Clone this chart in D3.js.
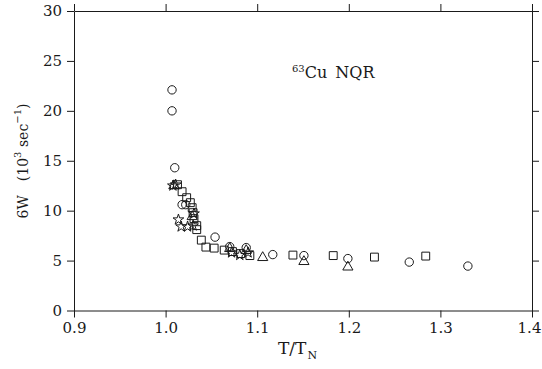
<!DOCTYPE html>
<html>
<head>
<meta charset="utf-8">
<script src="https://cdn.jsdelivr.net/npm/d3@7"></script>
<style>
  body { margin: 0; background: #fff; }
  svg { display: block; }
  text { font-family: "DejaVu Serif", "Liberation Serif", serif; fill: #1a1a1a; }
</style>
</head>
<body>
<svg id="chart" width="542" height="369"></svg>
<script>
// 63Cu NQR relaxation rate 6W versus reduced temperature T/TN
const xTicks = [0.9, 1.0, 1.1, 1.2, 1.3, 1.4];
const yTicks = [0, 5, 10, 15, 20, 25, 30];

const circles = [
  [1.007, 22.1], [1.007, 20.0], [1.010, 14.3], [1.018, 10.6], [1.022, 10.6],
  [1.054, 7.35], [1.070, 6.4], [1.088, 6.3], [1.117, 5.6], [1.151, 5.5],
  [1.199, 5.2], [1.266, 4.85], [1.330, 4.45]
];
const squares = [
  [1.013, 12.6], [1.018, 11.9], [1.023, 11.3], [1.027, 10.8], [1.029, 10.3],
  [1.030, 9.8], [1.031, 9.2], [1.034, 8.5], [1.034, 8.1], [1.039, 7.05],
  [1.044, 6.35], [1.053, 6.25], [1.064, 6.05], [1.073, 5.9], [1.082, 5.7],
  [1.092, 5.5], [1.139, 5.55], [1.183, 5.5], [1.228, 5.35], [1.284, 5.45]
];
const triangles = [
  [1.009, 12.5], [1.029, 9.4], [1.070, 6.2], [1.088, 6.0], [1.106, 5.3],
  [1.151, 4.9], [1.199, 4.35]
];
const stars = [
  [1.008, 12.5], [1.011, 12.6], [1.014, 9.1], [1.017, 8.4], [1.024, 8.4],
  [1.030, 8.5], [1.031, 9.7], [1.072, 5.8], [1.081, 5.55], [1.090, 5.8]
];

const svg = d3.select("#chart");
const x = d3.scaleLinear().domain([0.9, 1.4]).range([74, 532]);
const y = d3.scaleLinear().domain([0, 30]).range([310.5, 11]);

const ink = "#1a1a1a";
const fmt = d3.format(".1f");

// frame axes with outward ticks on all four sides
const gx = svg.append("g").attr("transform", `translate(0,${y(0)})`)
  .call(d3.axisBottom(x).tickValues(xTicks).tickFormat(fmt).tickSize(7).tickSizeOuter(0).tickPadding(5));
svg.append("g").attr("transform", `translate(0,${y(30)})`)
  .call(d3.axisTop(x).tickValues(xTicks).tickFormat("").tickSize(7).tickSizeOuter(0));
const gy = svg.append("g").attr("transform", `translate(${x(0.9)},0)`)
  .call(d3.axisLeft(y).tickValues(yTicks).tickSize(7).tickSizeOuter(0).tickPadding(5));
svg.append("g").attr("transform", `translate(${x(1.4)},0)`)
  .call(d3.axisRight(y).tickValues(yTicks).tickFormat("").tickSize(7).tickSizeOuter(0));

svg.selectAll("g").attr("font-family", null);
svg.selectAll(".domain, .tick line").attr("stroke", ink).attr("stroke-width", 1);
svg.selectAll(".tick text").attr("font-size", 15).attr("fill", ink);
// keep the last x label inside the page edge
gx.selectAll(".tick text").filter(d => d === 1.4).attr("dx", -3);

// markers
const symbolGroup = svg.append("g").attr("fill", "none").attr("stroke", ink).attr("stroke-width", 1);
function drawSymbols(data, type, size) {
  symbolGroup.selectAll(null).data(data).enter().append("path")
    .attr("d", d3.symbol().type(type).size(size))
    .attr("transform", d => `translate(${x(d[0])},${y(d[1])})`);
}
drawSymbols(squares, d3.symbolSquare, 62);
drawSymbols(circles, d3.symbolCircle, 55);
drawSymbols(triangles, d3.symbolTriangle, 45);
drawSymbols(stars, d3.symbolStar, 36);

// x-axis title
const xt = svg.append("text").attr("x", 278).attr("y", 354).attr("font-size", 17);
xt.append("tspan").text("T/T");
xt.append("tspan").attr("font-size", 11).attr("dy", 5).attr("dx", 1).text("N");

// y-axis title
const yt = svg.append("text").attr("transform", "translate(28,161) rotate(-90)")
  .attr("text-anchor", "middle").attr("font-size", 14);
yt.append("tspan").text("6W\u2003(10");
yt.append("tspan").attr("font-size", 10).attr("dy", -7).text("3");
yt.append("tspan").attr("dy", 7).text(" sec");
yt.append("tspan").attr("font-size", 10).attr("dy", -7).text("\u22121");
yt.append("tspan").attr("dy", 7).text(")");

// annotation
const an = svg.append("text").attr("x", 292).attr("y", 78).attr("font-size", 16);
an.append("tspan").attr("font-size", 10).attr("dy", -6).text("63");
an.append("tspan").attr("dy", 6).text("Cu\u2002NQR");
</script>
</body>
</html>
